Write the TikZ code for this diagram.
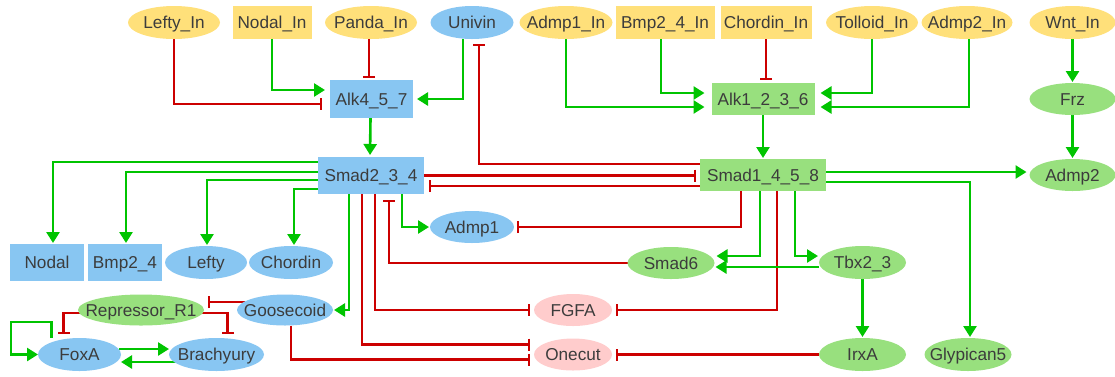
\documentclass[tikz,border=0pt]{standalone}
\usepackage{fontspec}
\setmainfont{Liberation Sans}
\usetikzlibrary{shapes.geometric,arrows.meta,calc}
\definecolor{yel}{HTML}{FFE07A}
\definecolor{blu}{HTML}{88C6F2}
\definecolor{grn}{HTML}{98E07E}
\definecolor{pnk}{HTML}{FFCCCC}
\definecolor{lred}{HTML}{CC0000}
\definecolor{lgrn}{HTML}{00C400}
\definecolor{txt}{HTML}{3C3C3C}
\pgfdeclarelayer{bg}
\pgfsetlayers{bg,main}
\newcommand\T[1]{\makebox[0pt][c]{#1}}
\begin{document}
\begin{tikzpicture}[x=1pt,y=-1pt,
  every node/.style={inner sep=0pt, outer sep=0pt, text height=12.4pt, text depth=0pt, text=txt, font=\fontsize{17.2}{19}\selectfont},
  ell/.style={ellipse},
  box/.style={rectangle},
  act/.style={draw=lgrn, line width=2.6pt, -{Triangle[length=11pt,width=13pt]}, shorten >=3pt},
  inh/.style={draw=lred, line width=2.6pt, -{Bar[width=12pt,line width=1.6pt]}, shorten >=4pt},
]
\useasboundingbox (0,0) rectangle (1115,376);
% top row
\node[ell, fill=yel, minimum width=92pt, minimum height=33pt] (LeftyIn) at (174,22.5) {\T{Lefty\_In}};
\node[box, fill=yel, minimum width=79pt, minimum height=33pt] (NodalIn) at (272,22.5) {\T{Nodal\_In}};
\node[ell, fill=yel, minimum width=92pt, minimum height=33pt] (PandaIn) at (371,22.5) {\T{Panda\_In}};
\node[ell, fill=blu, minimum width=83pt, minimum height=33pt] (Univin) at (472,22.5) {\T{Univin}};
\node[ell, fill=yel, minimum width=93pt, minimum height=33pt] (Admp1In) at (566,22.5) {\T{Admp1\_In}};
\node[box, fill=yel, minimum width=99pt, minimum height=33pt] (Bmp24In) at (665,22.5) {\T{Bmp2\_4\_In}};
\node[box, fill=yel, minimum width=91pt, minimum height=33pt] (ChordinIn) at (766,22.5) {\T{Chordin\_In}};
\node[ell, fill=yel, minimum width=92pt, minimum height=33pt] (TolloidIn) at (872,22.5) {\T{Tolloid\_In}};
\node[ell, fill=yel, minimum width=91pt, minimum height=33pt] (Admp2In) at (967,22.5) {\T{Admp2\_In}};
\node[ell, fill=yel, minimum width=86pt, minimum height=33pt] (WntIn) at (1072.5,22.5) {\T{Wnt\_In}};
% receptors
\node[box, fill=blu, minimum width=83pt, minimum height=38pt] (Alk457) at (371.5,99) {\T{Alk4\_5\_7}};
\node[box, fill=grn, minimum width=103pt, minimum height=32pt] (Alk1236) at (763,99) {\T{Alk1\_2\_3\_6}};
\node[ell, fill=grn, minimum width=86pt, minimum height=32pt] (Frz) at (1072.5,99) {\T{Frz}};
% smads
\node[box, fill=blu, minimum width=106pt, minimum height=37pt] (Smad234) at (371,175.5) {\T{Smad2\_3\_4}};
\node[box, fill=grn, minimum width=126pt, minimum height=32pt] (Smad1458) at (763,175) {\T{Smad1\_4\_5\_8}};
\node[ell, fill=grn, minimum width=86pt, minimum height=32pt] (Admp2) at (1072.5,175) {\T{Admp2}};
\node[ell, fill=blu, minimum width=84pt, minimum height=32pt] (Admp1) at (472,227) {\T{Admp1}};
% targets row
\node[box, fill=blu, minimum width=74pt, minimum height=37pt] (Nodal) at (47,262.5) {\T{Nodal}};
\node[box, fill=blu, minimum width=74pt, minimum height=37pt] (Bmp24) at (125,262.5) {\T{Bmp2\_4}};
\node[ell, fill=blu, minimum width=82pt, minimum height=33pt] (Lefty) at (206,262.5) {\T{Lefty}};
\node[ell, fill=blu, minimum width=84pt, minimum height=33pt] (Chordin) at (291,262.5) {\T{Chordin}};
\node[ell, fill=grn, minimum width=87pt, minimum height=32pt] (Smad6) at (671,263) {\T{Smad6}};
\node[ell, fill=grn, minimum width=87pt, minimum height=33pt] (Tbx23) at (862.5,262.5) {\T{Tbx2\_3}};
\node[ell, fill=grn, minimum width=126pt, minimum height=31pt] (RepR1) at (141,310) {\T{Repressor\_R1}};
\node[ell, fill=blu, minimum width=96pt, minimum height=31pt] (Goosecoid) at (285,310) {\T{Goosecoid}};
\node[ell, fill=pnk, minimum width=78pt, minimum height=32pt] (FGFA) at (573,310) {\T{FGFA}};
\node[ell, fill=blu, minimum width=83pt, minimum height=33pt] (FoxA) at (79.5,354.5) {\T{FoxA}};
\node[ell, fill=blu, minimum width=95pt, minimum height=33pt] (Brachyury) at (216.5,354.5) {\T{Brachyury}};
\node[ell, fill=pnk, minimum width=78pt, minimum height=32pt] (Onecut) at (573,354.5) {\T{Onecut}};
\node[ell, fill=grn, minimum width=87pt, minimum height=33pt] (IrxA) at (862.5,354.5) {\T{IrxA}};
\node[ell, fill=grn, minimum width=87pt, minimum height=33pt] (Glypican5) at (968,354.5) {\T{Glypican5}};

\begin{pgfonlayer}{bg}
\fill[white] (0,0) rectangle (1115,376);
% inputs to Alk4_5_7
\draw[inh, shorten >=8pt] (LeftyIn.south) |- ($(Alk457.west)+(0,5)$);
\draw[act, shorten >=5pt] (NodalIn.south) |- ($(Alk457.west)+(0,-9)$);
\draw[inh, shorten >=2pt] ($(PandaIn.south)+(-2,0)$) -- ($(Alk457.north)+(-2.5,0)$);
\draw[act, shorten >=4pt] ($(Univin.south)+(-9,0)$) |- (Alk457.east);
\draw[act, shorten >=2pt] ($(Alk457.south)+(-1,0)$) -- ($(Smad234.north)+(-1,0)$);
% inputs to Alk1_2_3_6
\draw[act, shorten >=7pt] (Admp1In.south) |- ($(Alk1236.west)+(0,8)$);
\draw[act, shorten >=7pt] ($(Bmp24In.south)+(-4,0)$) |- ($(Alk1236.west)+(0,-6)$);
\draw[inh, shorten >=3pt] (ChordinIn.south) -- (ChordinIn.south |- Alk1236.north);
\draw[act, shorten >=6pt] (TolloidIn.south) |- ($(Alk1236.east)+(0,-6)$);
\draw[act, shorten >=6pt] ($(Admp2In.south)+(2,0)$) |- ($(Alk1236.east)+(0,8)$);
\draw[act, shorten >=1pt] (Alk1236) -- (Smad1458);
\draw[act, shorten >=1pt] (WntIn) -- (Frz);
\draw[act, shorten >=1pt] (Frz) -- (Admp2);
% Smad cross-talk
\draw[inh, shorten >=5pt] ($(Smad1458.west)+(0,-11)$) -| ($(Univin.south)+(7,0)$);
\draw[inh, shorten >=4pt] (Smad234.east) -- ($(Smad1458.west)+(0,0.5)$);
\draw[inh, shorten >=5pt] ($(Smad1458.west)+(0,11)$) -- ($(Smad234.east)+(0,10.5)$);
% Smad1_4_5_8 outputs
\draw[act, shorten >=3pt] ($(Smad1458.east)+(0,-3)$) -- ($(Admp2.west)+(0,-3)$);
\draw[act, shorten >=1pt] ($(Smad1458.east)+(0,7)$) -| ($(Glypican5.north)+(2,0)$);
\draw[inh, shorten >=3pt] ($(Smad1458.south)+(-22,0)$) |- (Admp1.east);
\draw[act, shorten >=2pt] ($(Smad1458.south)+(-3,0)$) |- ($(Smad6.east)+(0,-7)$);
\draw[inh, shorten >=4pt] ($(Smad1458.south)+(14,0)$) |- (FGFA.east);
\draw[act, shorten >=1pt] ($(Smad1458.south)+(32,0)$) |- ($(Tbx23.west)+(0,-6.5)$);
\draw[act, shorten >=1pt] ($(Tbx23.west)+(0,4.5)$) -- ($(Smad6.east)+(0,4)$);
\draw[act, shorten >=1pt] (Tbx23) -- (IrxA);
\draw[inh, shorten >=4pt] (IrxA) -- (Onecut);
% Smad2_3_4 outputs
\draw[act, shorten >=1pt] ($(Smad234.west)+(0,-13.5)$) -| ($(Nodal.north)+(6,0)$);
\draw[act, shorten >=1pt] ($(Smad234.west)+(0,-3.5)$) -| ($(Bmp24.north)+(1,0)$);
\draw[act, shorten >=1pt] ($(Smad234.west)+(0,4.5)$) -| ($(Lefty.north)+(1,0)$);
\draw[act, shorten >=1pt] ($(Smad234.west)+(0,13.5)$) -| ($(Chordin.north)+(3,0)$);
\draw[act, shorten >=1pt] ($(Smad234.south)+(-22,0)$) |- (Goosecoid.east);
\draw[inh, shorten >=4pt] ($(Smad234.south)+(-9,0)$) |- ($(Onecut.west)+(0,-10)$);
\draw[inh, shorten >=4pt] ($(Smad234.south)+(4,0)$) |- (FGFA.west);
\draw[inh, shorten >=6pt] (Smad6.west) -| ($(Smad234.south)+(18,0)$);
\draw[act, shorten >=1pt] ($(Smad234.south)+(31,0)$) |- (Admp1.west);
% lower left cluster
\draw[inh, shorten >=4pt] ($(Goosecoid.south)+(6,0)$) |- ($(Onecut.west)+(0,5)$);
\draw[inh, shorten >=0pt] ($(Goosecoid.center)+(-40,-8)$) -- ($(RepR1.east)+(4,-8)$);
\draw[inh, shorten >=4pt] ($(RepR1.west)+(2,3)$) -| ($(FoxA.north)+(-16,0)$);
\draw[inh, shorten >=4pt] ($(RepR1.east)+(-2,3)$) -| ($(Brachyury.north)+(11,0)$);
\draw[act, shorten >=0pt] ($(FoxA.east)+(-2,-5.5)$) -- ($(Brachyury.west)+(0,-5.5)$);
\draw[act, shorten >=0pt] ($(Brachyury.west)+(8,7.5)$) -- ($(FoxA.east)+(0,7.5)$);
\draw[act, shorten >=0pt] ($(FoxA.north)+(-28,0)$) |- ($(FoxA.west)+(-27,-32.5)$) |- (FoxA.west);
\end{pgfonlayer}
\end{tikzpicture}
\end{document}
